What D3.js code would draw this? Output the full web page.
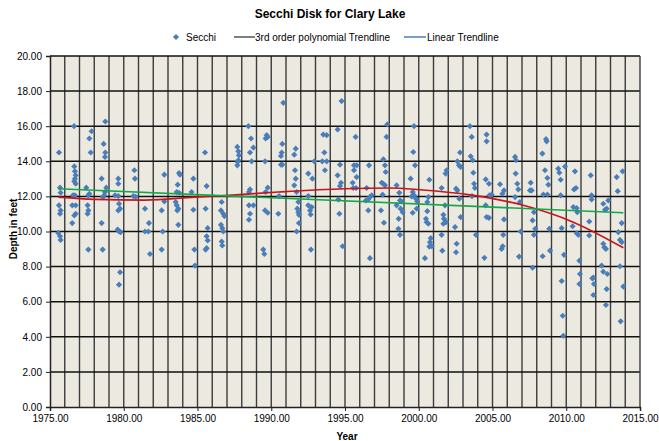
<!DOCTYPE html>
<html>
<head>
<meta charset="utf-8">
<script src="https://cdn.jsdelivr.net/npm/d3@7"></script>
<style>
  body { margin: 0; background: #fff; }
  text { font-family: "Liberation Sans", Arial, sans-serif; fill: #000; }
</style>
</head>
<body>
<div id="chart"></div>
<script>
// Secchi readings: [decimal year, depth in feet]
var secchi = [
  [1975.61,14.50],[1975.68,12.50],[1975.72,12.21],[1975.61,11.49],[1975.72,11.20],[1975.68,11.01],[1975.56,9.92],[1975.68,9.73],[1975.72,9.52],
  [1976.63,16.00],[1976.65,13.71],[1976.69,13.43],[1976.74,13.20],[1976.69,13.01],[1976.65,12.86],[1976.74,12.72],[1976.56,12.06],[1976.69,12.06],[1976.51,11.49],[1976.74,11.49],[1976.74,11.01],[1976.65,10.91],[1976.51,10.48],
  [1977.82,15.71],[1977.67,15.30],[1977.76,14.50],[1977.46,12.50],[1977.67,12.15],[1977.60,12.06],[1977.55,11.49],[1977.60,11.20],[1977.55,11.01],[1977.60,8.97],
  [1978.75,16.27],[1978.64,14.99],[1978.75,14.50],[1978.73,14.25],[1978.50,13.01],[1978.82,12.50],[1978.73,12.25],[1978.68,12.06],[1978.59,11.96],[1978.50,10.48],[1978.57,8.97],
  [1979.63,13.01],[1979.63,12.72],[1979.41,12.06],[1979.63,12.02],[1979.68,11.58],[1979.75,11.30],[1979.63,11.20],[1979.59,10.11],[1979.68,10.00],[1979.79,9.96],[1979.75,7.68],[1979.68,6.97],
  [1980.72,13.49],[1980.76,13.01],[1980.65,12.02],[1980.81,11.98],
  [1981.44,11.30],[1981.71,10.48],[1981.44,10.00],[1981.67,10.00],[1981.78,8.72],
  [1982.75,13.24],[1982.75,11.71],[1982.57,11.20],[1982.64,10.00],[1982.57,8.97],
  [1983.75,13.33],[1983.81,13.24],[1983.66,12.67],[1983.59,12.25],[1983.75,12.21],[1983.52,11.68],[1983.59,11.49],[1983.70,11.30],[1983.63,11.20],[1983.70,10.38],
  [1984.72,13.01],[1984.60,12.25],[1984.72,11.24],[1984.79,8.97],[1984.83,8.06],
  [1985.51,14.50],[1985.62,12.59],[1985.55,11.30],[1985.69,10.19],[1985.62,9.73],[1985.69,9.49],[1985.62,9.05],[1985.55,8.97],
  [1986.64,11.68],[1986.59,11.20],[1986.75,11.01],[1986.82,10.88],[1986.59,10.38],[1986.68,10.19],[1986.75,10.00],[1986.64,9.43],[1986.68,9.20],
  [1987.70,14.82],[1987.77,14.57],[1987.81,14.34],[1987.77,14.06],[1987.70,13.77],[1987.72,13.96],
  [1988.45,16.00],[1988.63,15.30],[1988.79,14.78],[1988.56,14.50],[1988.67,14.00],[1988.56,12.40],[1988.49,12.25],[1988.49,11.49],[1988.79,11.49],[1988.56,11.01],[1988.49,10.67],
  [1989.69,15.49],[1989.76,15.39],[1989.62,15.30],[1989.58,14.00],[1989.76,12.50],[1989.62,12.25],[1989.58,11.20],[1989.76,11.07],[1989.46,8.97],[1989.53,8.72],
  [1990.82,17.33],[1990.75,14.99],[1990.71,14.50],[1990.66,14.30],[1990.66,13.81],[1990.75,13.81],[1990.53,12.02],[1990.48,11.01],
  [1991.66,14.72],[1991.56,14.38],[1991.61,13.49],[1991.66,13.01],[1991.56,12.63],[1991.72,12.25],[1991.84,11.68],[1991.77,11.30],[1991.84,11.10],[1991.88,10.95],[1991.88,10.48],[1991.72,10.00],
  [1992.51,13.30],[1992.79,13.01],[1992.92,14.00],[1992.51,12.02],[1992.51,11.49],[1992.63,11.20],[1992.74,11.39],[1992.67,10.97],[1992.69,8.97],
  [1993.53,15.52],[1993.76,15.49],[1993.60,14.50],[1993.46,14.00],[1993.76,14.00],[1993.64,13.49],
  [1994.77,17.43],[1994.50,15.81],[1994.66,13.81],[1994.50,13.20],[1994.73,12.78],[1994.66,12.59],[1994.55,11.83],[1994.62,11.01],[1994.84,9.16],
  [1995.72,15.39],[1995.61,13.77],[1995.79,13.77],[1995.61,13.49],[1995.79,13.10],[1995.52,12.78],[1995.56,12.48],[1995.75,12.48],
  [1996.63,13.77],[1996.47,12.48],[1996.69,11.96],[1996.58,11.83],[1996.81,12.06],[1996.42,11.77],[1996.58,11.20],[1996.69,8.48],
  [1997.87,16.10],[1997.82,15.39],[1997.60,14.11],[1997.71,13.77],[1997.76,13.39],[1997.49,12.78],[1997.60,12.72],[1997.71,12.63],[1997.55,12.10],[1997.44,11.20],[1997.64,10.50],
  [1998.50,12.63],[1998.68,12.21],[1998.73,11.77],[1998.50,11.49],[1998.84,11.71],[1998.77,11.30],[1998.91,11.10],[1998.64,10.72],[1998.62,10.15],[1998.73,9.81],
  [1999.68,16.00],[1999.63,14.53],[1999.75,13.77],[1999.45,13.01],[1999.59,12.25],[1999.68,12.06],[1999.52,12.00],[1999.81,11.87],[1999.59,11.07],[1999.86,11.30],[1999.90,11.71],
  [2000.72,12.95],[2000.65,11.96],[2000.58,11.68],[2000.58,11.16],[2000.49,10.72],[2000.54,10.53],[2000.65,10.44],[2000.81,9.62],[2000.76,9.39],[2000.88,9.16],[2000.72,9.14],[2000.42,8.48],
  [2001.89,13.49],[2001.82,13.30],[2001.55,12.48],[2001.78,11.49],[2001.67,10.95],[2001.71,10.72],[2001.85,10.53],[2001.67,10.44],[2001.55,9.81],[2001.60,8.91],
  [2002.80,14.50],[2002.62,14.00],[2002.73,13.77],[2002.84,13.68],[2002.53,12.44],[2002.62,12.34],[2002.75,11.87],[2002.84,10.82],[2002.46,10.25],[2002.57,9.30],[2002.53,8.82],
  [2003.47,16.00],[2003.59,15.39],[2003.52,14.29],[2003.66,14.06],[2003.70,13.35],[2003.75,12.72],[2003.81,12.48],[2003.61,12.02],[2003.88,9.81],
  [2004.60,15.52],[2004.60,15.14],[2004.54,12.97],[2004.76,12.72],[2004.94,12.10],[2004.79,12.06],[2004.54,11.49],[2004.60,10.82],[2004.76,10.78],[2004.45,8.50],
  [2005.51,12.69],[2005.78,12.34],[2005.67,12.15],[2005.78,10.69],[2005.73,9.81],[2005.69,9.16],[2005.62,9.01],
  [2006.53,14.25],[2006.59,14.06],[2006.57,13.30],[2006.68,12.72],[2006.75,12.40],[2006.53,11.96],[2006.86,11.68],[2006.91,10.00],[2006.80,8.57],
  [2007.59,12.78],[2007.54,12.34],[2007.66,12.34],[2007.81,11.10],[2007.72,10.63],[2007.90,10.15],[2007.81,9.81],[2007.72,7.94],
  [2008.63,15.26],[2008.67,15.14],[2008.38,14.44],[2008.56,13.49],[2008.72,13.05],[2008.79,12.67],[2008.45,12.11],[2008.72,12.11],[2008.85,10.15],[2008.90,8.91],[2008.40,8.59],
  [2009.46,13.58],[2009.53,13.35],[2009.92,13.70],[2009.62,12.95],[2009.62,12.06],[2009.69,10.19],[2009.85,8.67],[2009.69,7.18],[2009.76,5.20],[2009.80,4.06],
  [2010.59,13.43],[2010.66,12.48],[2010.53,12.40],[2010.48,11.39],[2010.71,11.33],[2010.75,11.10],[2010.43,10.30],[2010.71,9.90],[2010.82,9.81],[2010.89,8.34],[2010.93,7.58],[2010.89,7.01],
  [2011.66,13.20],[2011.72,12.06],[2011.72,11.83],[2011.56,10.57],[2011.56,9.77],[2011.84,7.37],[2011.77,7.33],[2011.88,7.01],[2011.84,6.38],
  [2012.51,11.58],[2012.85,11.77],[2012.74,11.30],[2012.63,11.24],[2012.51,9.30],[2012.58,9.10],[2012.69,9.01],[2012.40,8.06],[2012.51,7.71],[2012.79,7.58],[2012.74,6.72],[2012.69,5.81],
  [2013.42,13.10],[2013.82,13.43],[2013.49,12.30],[2013.76,10.48],[2013.53,9.96],[2013.64,9.52],[2013.76,9.39],[2013.64,8.02],[2013.87,6.86],[2013.69,4.88]
];

// trendlines
var polyTrend = [
  [1975.56,11.96],[1978.05,11.83],[1981.44,11.79],[1984.83,11.96],[1987.09,12.06],[1990.48,12.25],
  [1995.00,12.44],[1998.05,12.48],[2000.08,12.38],[2003.70,12.06],[2007.09,11.49],[2010.48,10.53],[2013.87,9.07]
];
var linearTrend = [[1975.56,12.44],[2013.87,11.07]];

var yearTicks = d3.range(1975, 2016, 5);
var depthTicks = d3.range(0, 21, 2);
var gridYears = d3.range(1976, 2015, 1);

var w = 659, h = 441;
var plotL = 50, plotR = 640, plotT = 56, plotB = 407;

var x = d3.scaleLinear().domain([1975, 2015]).range([plotL, plotR]);
var y = d3.scaleLinear().domain([0, 20]).range([plotB, plotT]);

var svg = d3.select("#chart").append("svg")
  .attr("width", w)
  .attr("height", h);

// plot background
svg.append("rect")
  .attr("x", plotL).attr("y", plotT)
  .attr("width", plotR - plotL).attr("height", plotB - plotT)
  .attr("fill", "#ECEAE0");

// vertical grid, one per year
svg.append("g").selectAll("line")
  .data(gridYears)
  .join("line")
  .attr("x1", d => x(d)).attr("x2", d => x(d))
  .attr("y1", plotT).attr("y2", plotB)
  .attr("stroke", "#3c3c3c")
  .attr("stroke-width", 1.4);

// horizontal grid
svg.append("g").selectAll("line")
  .data(depthTicks.filter(d => d > 0))
  .join("line")
  .attr("x1", plotL).attr("x2", plotR)
  .attr("y1", d => y(d)).attr("y2", d => y(d))
  .attr("stroke", "#111")
  .attr("stroke-width", 1.5);

// right border
svg.append("line")
  .attr("x1", plotR).attr("x2", plotR)
  .attr("y1", plotT).attr("y2", plotB)
  .attr("stroke", "#3c3c3c")
  .attr("stroke-width", 1.4);

// axes
var xAxis = d3.axisBottom(x).tickValues(yearTicks).tickFormat(d3.format(".2f")).tickSize(4).tickPadding(4);
var gx = svg.append("g")
  .attr("transform", "translate(0," + plotB + ")")
  .call(xAxis);
gx.select(".domain").attr("stroke", "#222").attr("stroke-width", 1.5);
gx.selectAll(".tick line").attr("stroke", "#222");
gx.selectAll("text").attr("font-size", 10).attr("font-family", "Liberation Sans, Arial, sans-serif");

var yAxis = d3.axisLeft(y).tickValues(depthTicks).tickFormat(d3.format(".2f")).tickSize(4).tickPadding(4);
var gy = svg.append("g")
  .attr("transform", "translate(" + plotL + ",0)")
  .call(yAxis);
gy.select(".domain").attr("stroke", "#222").attr("stroke-width", 1.5);
gy.selectAll(".tick line").attr("stroke", "#222");
gy.selectAll("text").attr("font-size", 10).attr("font-family", "Liberation Sans, Arial, sans-serif");

// scatter
var diamond = d3.symbol().type(d3.symbolSquare).size(19);
svg.append("g").selectAll("path")
  .data(secchi)
  .join("path")
  .attr("d", diamond)
  .attr("transform", d => "translate(" + x(d[0]) + "," + y(d[1]) + ") rotate(45)")
  .attr("fill", "#4A7EBB");

// trendlines
var polyLine = d3.line().x(d => x(d[0])).y(d => y(d[1])).curve(d3.curveMonotoneX);
svg.append("path")
  .datum(polyTrend)
  .attr("d", polyLine)
  .attr("fill", "none")
  .attr("stroke", "#C8151B")
  .attr("stroke-width", 1.6);
var linLine = d3.line().x(d => x(d[0])).y(d => y(d[1]));
svg.append("path")
  .datum(linearTrend)
  .attr("d", linLine)
  .attr("fill", "none")
  .attr("stroke", "#12A84A")
  .attr("stroke-width", 1.6);

// title and axis labels
svg.append("text")
  .attr("x", 330).attr("y", 18)
  .attr("text-anchor", "middle")
  .attr("font-size", 12).attr("font-weight", "bold")
  .text("Secchi Disk for Clary Lake");

svg.append("text")
  .attr("x", 347).attr("y", 440)
  .attr("text-anchor", "middle")
  .attr("font-size", 10).attr("font-weight", "bold")
  .text("Year");

svg.append("text")
  .attr("transform", "translate(17,229) rotate(-90)")
  .attr("text-anchor", "middle")
  .attr("font-size", 10).attr("font-weight", "bold")
  .text("Depth in feet");

// legend
var lg = svg.append("g").attr("font-size", 10);
lg.append("path")
  .attr("d", diamond)
  .attr("transform", "translate(176,37) rotate(45)")
  .attr("fill", "#4A7EBB");
lg.append("text").attr("x", 186).attr("y", 40.5).text("Secchi");
lg.append("line").attr("x1", 234).attr("x2", 255).attr("y1", 37).attr("y2", 37)
  .attr("stroke", "#555").attr("stroke-width", 1.5);
lg.append("text").attr("x", 255).attr("y", 40.5).text("3rd order polynomial Trendline");
lg.append("line").attr("x1", 404).attr("x2", 426).attr("y1", 37).attr("y2", 37)
  .attr("stroke", "#4A7EBB").attr("stroke-width", 1.5);
lg.append("text").attr("x", 427).attr("y", 40.5).text("Linear Trendline");
</script>
</body>
</html>
